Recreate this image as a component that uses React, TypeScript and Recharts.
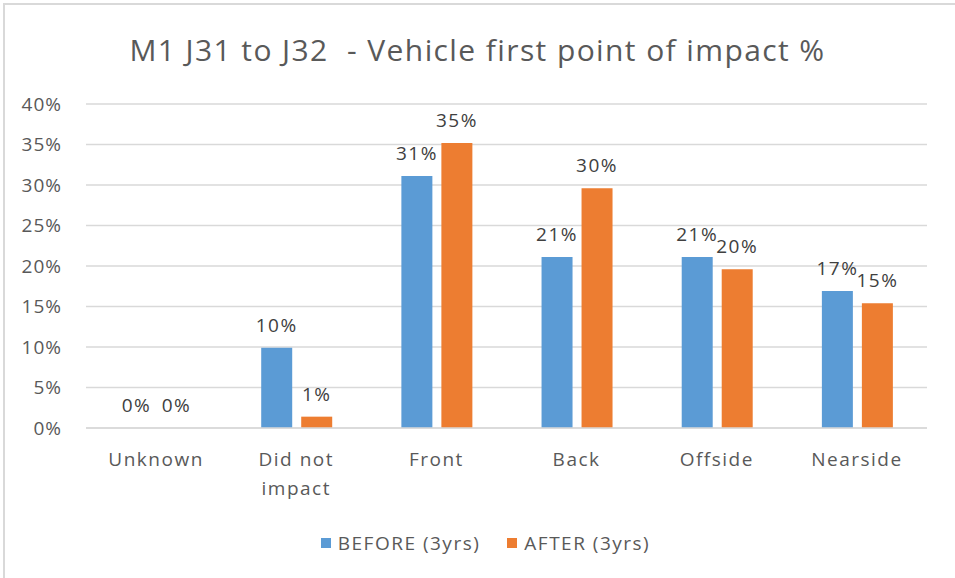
import { BarChart, Bar, XAxis, YAxis, CartesianGrid, LabelList, Legend, Text } from 'recharts';

const categories = ['Unknown', 'Did not impact', 'Front', 'Back', 'Offside', 'Nearside'];
const beforeValues = [0, 9.9, 31.1, 21.1, 21.1, 16.9];
const afterValues = [0, 1.4, 35.2, 29.6, 19.6, 15.4];
const yTicks = [0, 5, 10, 15, 20, 25, 30, 35, 40];

const BLUE = '#5B9BD5';
const ORANGE = '#ED7D31';
const FONT = '"Open Sans", sans-serif';

const data = categories.map((name, i) => ({
  name,
  before: beforeValues[i],
  after: afterValues[i],
}));

// zero bars still need their "0%" label, so give them an invisible sliver
const zeroSliver = (value: any) => (value === 0 ? 0.01 : 0);

// wraps "Did not impact" onto two lines like excel does
const CategoryTick = ({ x, y, payload }: any) => (
  <Text
    x={x}
    y={y}
    width={100}
    textAnchor="middle"
    verticalAnchor="start"
    lineHeight={29}
    fill="#595959"
    style={{ fontSize: 19, fontFamily: FONT, letterSpacing: 1.5 }}
  >
    {payload.value}
  </Text>
);

const LegendContent = () => (
  <div
    style={{
      display: 'flex',
      justifyContent: 'center',
      gap: 27,
      paddingTop: 14,
      paddingLeft: 44,
      fontFamily: FONT,
      fontSize: 19,
      letterSpacing: 1.5,
      color: '#595959',
    }}
  >
    {[
      { label: 'BEFORE (3yrs)', color: BLUE },
      { label: 'AFTER (3yrs)', color: ORANGE },
    ].map((item) => (
      <div key={item.label} style={{ display: 'flex', alignItems: 'center' }}>
        <span style={{ width: 10, height: 10, background: item.color, display: 'inline-block', marginRight: 7 }} />
        <span>{item.label}</span>
      </div>
    ))}
  </div>
);

const labelStyle = { fill: '#404040', fontSize: 19, fontFamily: FONT, letterSpacing: 1.5 };

export default function App() {
  return (
    <div style={{ position: 'absolute', left: 0, top: 0, width: 955, height: 578, background: '#fff' }}>
      <div style={{ position: 'absolute', left: 3, top: 3, width: 952, height: 575, borderLeft: '2px solid #d9d9d9', borderTop: '2px solid #d9d9d9' }} />
      <div
        style={{
          position: 'absolute',
          top: 29,
          left: 0,
          width: 955,
          textAlign: 'center',
          fontFamily: FONT,
          fontSize: 30,
          letterSpacing: 1.4,
          color: '#595959',
          whiteSpace: 'pre',
        }}
      >
        {'M1 J31 to J32  - Vehicle first point of impact %'}
      </div>
      <BarChart
        width={955}
        height={578}
        data={data}
        margin={{ top: 104, right: 28, left: 0, bottom: 22 }}
        barCategoryGap="25%"
        barGap={9}
      >
        <CartesianGrid vertical={false} stroke="#d9d9d9" strokeWidth={1.5} />
        <XAxis
          dataKey="name"
          tick={<CategoryTick />}
          tickLine={false}
          axisLine={{ stroke: '#d9d9d9', strokeWidth: 1.5 }}
          interval={0}
          height={88}
          tickMargin={19}
        />
        <YAxis
          domain={[0, 40]}
          ticks={yTicks}
          width={86}
          tickFormatter={(v) => `${v}%`}
          tickLine={false}
          axisLine={false}
          tickSize={0}
          tickMargin={24}
          tick={{ fill: '#595959', fontSize: 19, fontFamily: FONT, letterSpacing: 1 }}
        />
        <Legend verticalAlign="bottom" height={40} content={<LegendContent />} />
        <Bar dataKey="before" name="BEFORE (3yrs)" fill={BLUE} minPointSize={zeroSliver} isAnimationActive={false}>
          <LabelList
            dataKey="before"
            position="top"
            offset={16}
            formatter={(v: any) => `${Math.round(v)}%`}
            style={labelStyle}
          />
        </Bar>
        <Bar dataKey="after" name="AFTER (3yrs)" fill={ORANGE} minPointSize={zeroSliver} isAnimationActive={false}>
          <LabelList
            dataKey="after"
            position="top"
            offset={16}
            formatter={(v: any) => `${Math.round(v)}%`}
            style={labelStyle}
          />
        </Bar>
      </BarChart>
    </div>
  );
}
